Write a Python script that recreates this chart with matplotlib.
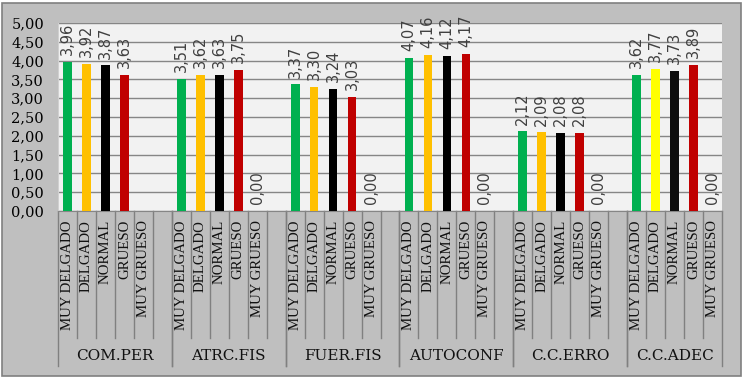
import matplotlib
matplotlib.use('Agg')
import matplotlib.pyplot as plt
from matplotlib.patches import Rectangle
from matplotlib.lines import Line2D
from matplotlib.ticker import FuncFormatter
import numpy as np

# Datos del grafico
groups = ['COM.PER', 'ATRC.FIS', 'FUER.FIS', 'AUTOCONF', 'C.C.ERRO', 'C.C.ADEC']
categories = ['MUY DELGADO', 'DELGADO', 'NORMAL', 'GRUESO', 'MUY GRUESO']
com_per = [3.96, 3.92, 3.87, 3.63, None]
atrc_fis = [3.51, 3.62, 3.63, 3.75, 0.00]
fuer_fis = [3.37, 3.30, 3.24, 3.03, 0.00]
autoconf = [4.07, 4.16, 4.12, 4.17, 0.00]
cc_erro = [2.12, 2.09, 2.08, 2.08, 0.00]
cc_adec = [3.62, 3.77, 3.73, 3.89, 0.00]
values = [com_per, atrc_fis, fuer_fis, autoconf, cc_erro, cc_adec]

# Colores por categoria (C.C.ADEC usa amarillo puro en DELGADO)
colors = ['#00b050', '#ffc000', '#000000', '#c00000', '#808080']
colors_adec = ['#00b050', '#ffff00', '#0d0d0d', '#c00000', '#808080']


def fmt(v):
    return f'{v:.2f}'.replace('.', ',')


def main():
    W, H = 743, 377
    fig = plt.figure(figsize=(W / 100, H / 100), dpi=100, facecolor='white')

    # Fondo gris del grafico
    fig.patches.append(Rectangle((1.5 / W, 1.5 / H), 739.5 / W, 373 / H,
                                 transform=fig.transFigure, fc='#bfbfbf',
                                 ec='#808080', lw=1.2, zorder=-10))

    left, right, top, bottom = 58, 722, 23, 211
    ax = fig.add_axes([left / W, 1 - bottom / H, (right - left) / W, (bottom - top) / H])
    ax.set_facecolor('#f2f2f2')

    slot = 6
    n_slots = slot * (len(groups) - 1) + len(categories)
    for g, vals in enumerate(values):
        cols = colors_adec if groups[g] == 'C.C.ADEC' else colors
        for k, v in enumerate(vals):
            if v is None:
                continue
            x = g * slot + k
            ax.bar(x, v, width=0.46, color=cols[k], zorder=3)
            ax.text(x, v + 0.18, fmt(v), rotation=90, ha='center', va='bottom',
                    fontsize=10.5, family='DejaVu Sans', color='#404040', zorder=4)

    ax.set_xlim(-0.5, n_slots - 0.5)
    ax.set_ylim(0, 5)
    ax.set_yticks(np.arange(0, 5.01, 0.5))
    ax.yaxis.set_major_formatter(FuncFormatter(lambda v, p: fmt(v)))
    ax.grid(axis='y', color='#868686', lw=1, zorder=1)
    ax.tick_params(axis='y', length=0, pad=10, labelsize=10.5)
    for lab in ax.get_yticklabels():
        lab.set_family('DejaVu Serif')
    ax.set_xticks([])
    for s in ['top', 'right']:
        ax.spines[s].set_visible(False)
    ax.spines['left'].set_color('#d0d0d0')
    ax.spines['bottom'].set_color('#868686')

    # Eje x de dos niveles
    trans = ax.get_xaxis_transform()
    h_ax = bottom - top
    y_cat = -9 / h_ax
    y_tick = -(338 - bottom) / h_ax
    y_sep = -(366 - bottom) / h_ax
    y_grp = -(356 - bottom) / h_ax
    for g, name in enumerate(groups):
        n = slot if g < len(groups) - 1 else len(categories)
        start = g * slot
        for j in range(n + 1):
            xb = start + j - 0.5
            y_end = y_sep if j in (0, n) else y_tick
            ax.add_line(Line2D([xb, xb], [0, y_end], transform=trans, color='#808080',
                               lw=1, clip_on=False))
        for k, cat in enumerate(categories):
            ax.text(start + k, y_cat, cat, transform=trans, rotation=90, ha='center',
                    va='top', fontsize=10.7, family='Liberation Serif', color='#111111')
        ax.text(start + (n - 1) / 2, y_grp, name, transform=trans, ha='center',
                va='center', fontsize=11, family='DejaVu Serif', color='#111111')

    fig.savefig('out.png', dpi=100, facecolor=fig.get_facecolor())


if __name__ == "__main__":
    main()
